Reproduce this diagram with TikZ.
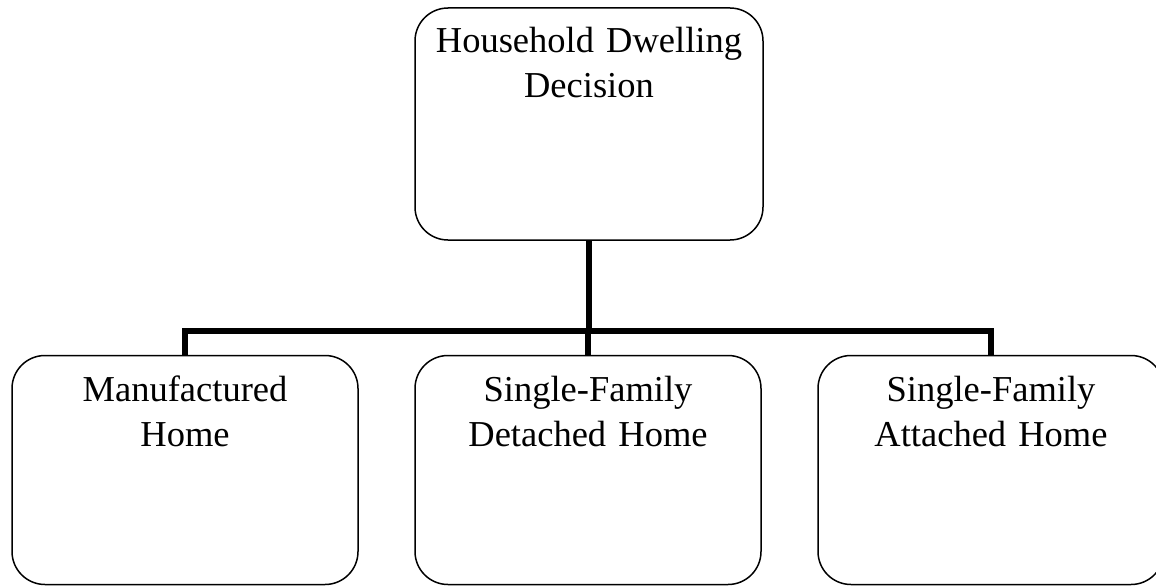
\documentclass[tikz,border=0pt]{standalone}
\usepackage{fontspec}
\setmainfont{Liberation Serif}
\begin{document}
\begin{tikzpicture}[x=1pt,y=-1pt]
	\tikzstyle{unit}=[draw,line width=1.5pt,rounded corners=33pt,minimum width=346pt,minimum height=229pt]
	\tikzstyle{caption}=[anchor=base,inner sep=0pt,align=center,text width=340pt,font=\fontsize{36.5}{45}\selectfont]
	\tikzstyle{link}=[line width=5.5pt]

	\useasboundingbox (0,0) rectangle (1156,586);

	\node[unit,minimum width=348pt,minimum height=232pt](dec) at (589,124){};
	\node[unit](man) at (185,470){};
	\node[unit](det) at (588,470){};
	\node[unit](att) at (991,470){};

	\node[caption] at ([yshift=-45pt]dec.north){Household Dwelling\\Decision};
	\node[caption] at ([yshift=-47pt]man.north){Manufactured\\Home};
	\node[caption] at ([yshift=-47pt]det.north){Single-Family\\Detached Home};
	\node[caption] at ([yshift=-47pt]att.north){Single-Family\\Attached Home};

	\coordinate (bus) at (dec.south |- 0,331);
	\draw[link] (dec.south) -- (bus);
	\draw[link] (man.north) |- (bus) -| (att.north);
	\draw[link] (det.north) -- (det.north |- bus);
\end{tikzpicture}
\end{document}
